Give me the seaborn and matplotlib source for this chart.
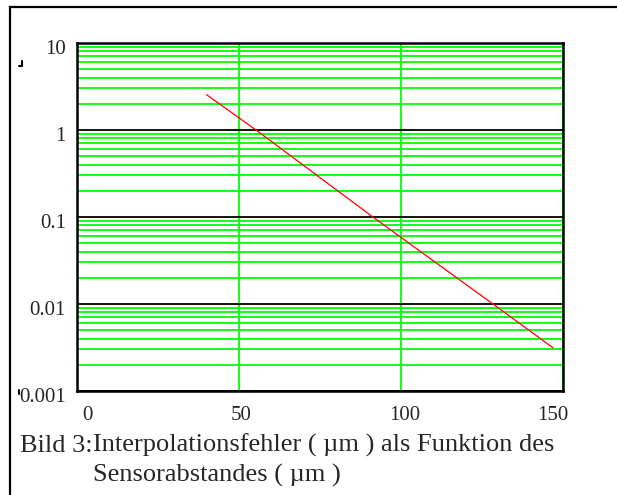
import matplotlib
matplotlib.use("Agg")
import matplotlib.pyplot as plt
import matplotlib.transforms as mtransforms
from matplotlib.lines import Line2D
from matplotlib.ticker import LogLocator, FixedLocator, NullFormatter
import seaborn as sns

# Data
sensor_distance = [40.0, 55.3, 91.4, 128.5, 147.0]
interp_error = [2.55, 1.0, 0.1, 0.01, 0.00315]

x_ticks = [0, 50, 100, 150]
x_tick_labels = ["0", "50", "100", "150"]
y_ticks = [0.001, 0.01, 0.1, 1, 10]
y_tick_labels = ["0.001", "0.01", "0.1", "1", "10"]

caption_label = "Bild 3:"
caption_line1 = "Interpolationsfehler ( µm ) als Funktion des"
caption_line2 = "Sensorabstandes ( µm )"

sns.set_style("white")
plt.rcParams["font.family"] = ["Liberation Serif", "DejaVu Serif"]

W, H = 617, 495
fig = plt.figure(figsize=(W / 100, H / 100), dpi=100)
ax = fig.add_axes([77 / W, 1 - 391 / H, (562.5 - 77) / W, (391 - 43) / H])

ax.set_yscale("log")
ax.set_xlim(0, 150)
ax.set_ylim(0.001, 10)

# grid
ax.yaxis.set_major_locator(FixedLocator(y_ticks))
ax.yaxis.set_minor_locator(LogLocator(base=10, subs=range(2, 10), numticks=20))
ax.yaxis.set_minor_formatter(NullFormatter())
ax.set_axisbelow(True)
ax.grid(True, which="minor", axis="y", color="#00ff00", linewidth=1.3)
ax.grid(True, which="major", axis="y", color="black", linewidth=1.3)
ax.grid(True, which="major", axis="x", color="#00ff00", linewidth=1.3)

sns.lineplot(x=sensor_distance, y=interp_error, ax=ax, color="red",
             linewidth=0.9, zorder=3)

ax.set_xticks(x_ticks)
ax.set_xticklabels(x_tick_labels, fontsize=15)
ax.set_yticks(y_ticks)
ax.set_yticklabels(y_tick_labels, fontsize=15)
ax.tick_params(axis="both", which="both", length=0)
ax.tick_params(axis="x", pad=11)
ax.tick_params(axis="y", pad=8)

# Mathcad-like label placement offsets (pixels)
x_offsets = [10, 2, 4, -10]
for lab, dx in zip(ax.get_xticklabels(), x_offsets):
    lab.set_transform(lab.get_transform() +
                      mtransforms.ScaledTranslation(dx / 100, 0, fig.dpi_scale_trans))
for lab in ax.get_yticklabels():
    lab.set_transform(lab.get_transform() +
                      mtransforms.ScaledTranslation(0, -4 / 100, fig.dpi_scale_trans))

for s in ax.spines.values():
    s.set_color("black")
    s.set_linewidth(1.8)
    s.set_zorder(4)

# outer frame (left and top visible)
frame = plt.Rectangle((10.5 / W, -0.1), 1.2, 1 - 7 / H + 0.1, transform=fig.transFigure,
                      fill=False, edgecolor="black", linewidth=1.6)
fig.add_artist(frame)

# small stray marks of the original document
def px_line(xs, ys):
    fig.add_artist(Line2D([x / W for x in xs], [1 - y / H for y in ys],
                          transform=fig.transFigure, color="black", linewidth=1.5))

px_line([21.5, 21.5], [61, 66])
px_line([19, 21.5], [66, 66])
px_line([19, 19], [390, 394])

# caption
cap_fs = 19
fig.text(20 / W, 1 - 452 / H, caption_label, fontsize=cap_fs, va="baseline", ha="left")
fig.text(93 / W, 1 - 452 / H, caption_line1, fontsize=cap_fs, va="baseline", ha="left")
fig.text(93 / W, 1 - 482 / H, caption_line2, fontsize=cap_fs, va="baseline", ha="left")

fig.savefig("out.png", dpi=100)
